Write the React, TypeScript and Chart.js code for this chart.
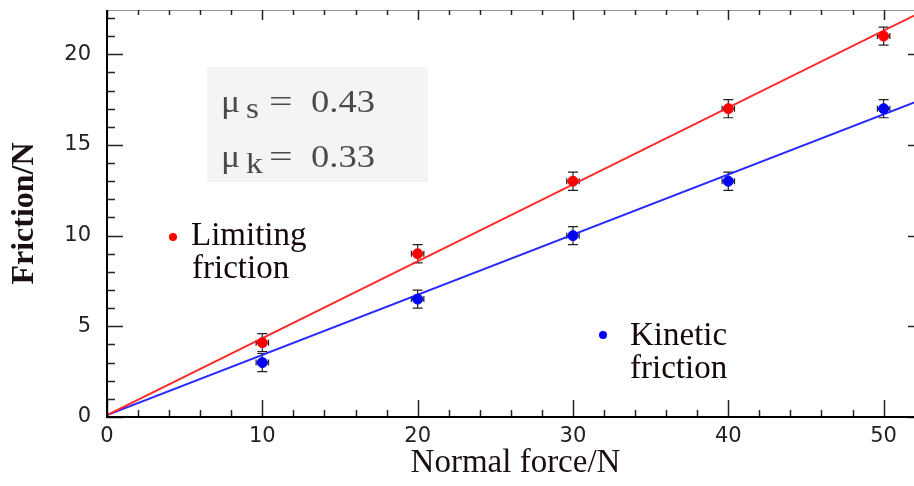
import React, { useEffect, useRef } from "react";
import { Chart, registerables } from "chart.js";

Chart.register(...registerables);

// ---- data ----
const normalForce = [10, 20, 30, 40, 50];
const limitingFriction = [4.1, 9.0, 13.0, 17.0, 21.0];
const kineticFriction = [3.0, 6.5, 10.0, 13.0, 17.0];
const frictionErr = [0.5, 0.5, 0.5, 0.5, 0.5];
const forceErr = [0.4, 0.4, 0.4, 0.4, 0.4];

const fitForce = [0, 52.6];
const limitingFit = [0.1, 22.4];
const kineticFit = [0.1, 17.55];

const xTickValues = [0, 10, 20, 30, 40, 50];
const yTickValues = [0, 5, 10, 15, 20];

const xMin = 0;
const xMax = 52.6;
const yMin = 0;
const yMax = 22.44;

const muLabels = [
  { sub: "s", value: "0.43" },
  { sub: "k", value: "0.33" },
];

const SERIF = "'Liberation Serif', 'Times New Roman', serif";
const SANS = "'DejaVu Sans', 'Liberation Sans', Arial, sans-serif";

const pts = (xs: number[], ys: number[]) => xs.map((x, i) => ({ x, y: ys[i] }));

const framePlugin = {
  id: "frame",
  beforeDatasetsDraw(chart: any) {
    const { ctx, scales } = chart;
    const xs = scales.x;
    const ys = scales.y;
    ctx.save();
    // annotation box
    ctx.fillStyle = "#f4f4f4";
    ctx.fillRect(207, 67, 221, 115);

    // error bars
    ctx.strokeStyle = "#222";
    ctx.lineWidth = 1.2;
    const drawErr = (ysArr: number[]) => {
      normalForce.forEach((f, i) => {
        const px = xs.getPixelForValue(f);
        const py = ys.getPixelForValue(ysArr[i]);
        const top = ys.getPixelForValue(ysArr[i] + frictionErr[i]);
        const bot = ys.getPixelForValue(ysArr[i] - frictionErr[i]);
        const l = xs.getPixelForValue(f - forceErr[i]);
        const r = xs.getPixelForValue(f + forceErr[i]);
        ctx.beginPath();
        ctx.moveTo(px, top);
        ctx.lineTo(px, bot);
        ctx.moveTo(px - 5, top);
        ctx.lineTo(px + 5, top);
        ctx.moveTo(px - 5, bot);
        ctx.lineTo(px + 5, bot);
        ctx.moveTo(l, py);
        ctx.lineTo(r, py);
        ctx.moveTo(l, py - 3);
        ctx.lineTo(l, py + 3);
        ctx.moveTo(r, py - 3);
        ctx.lineTo(r, py + 3);
        ctx.stroke();
      });
    };
    drawErr(limitingFriction);
    drawErr(kineticFriction);
    ctx.restore();
  },
  afterDraw(chart: any) {
    const { ctx, chartArea: a, scales } = chart;
    const xs = scales.x;
    const ys = scales.y;
    ctx.save();
    // frame
    ctx.strokeStyle = "#999";
    ctx.lineWidth = 1;
    ctx.beginPath();
    ctx.moveTo(a.left, a.top + 0.5);
    ctx.lineTo(a.right, a.top + 0.5);
    ctx.moveTo(a.right - 0.5, a.top);
    ctx.lineTo(a.right - 0.5, a.bottom);
    ctx.stroke();

    // ticks
    ctx.strokeStyle = "#222";
    ctx.lineWidth = 1.5;
    ctx.beginPath();
    for (let v = 0; v <= xMax; v += 2) {
      const px = Math.round(xs.getPixelForValue(v)) + 0.5;
      const major = v % 10 === 0;
      ctx.moveTo(px, a.bottom);
      ctx.lineTo(px, a.bottom - (major ? 17 : 7));
      ctx.moveTo(px, a.top);
      ctx.lineTo(px, a.top + (major ? 10 : 5));
    }
    for (let v = 0; v <= yMax; v += 1) {
      const py = Math.round(ys.getPixelForValue(v)) + 0.5;
      const major = v % 5 === 0;
      ctx.moveTo(a.left, py);
      ctx.lineTo(a.left + (major ? 16 : 8), py);
      ctx.moveTo(a.right, py);
      ctx.lineTo(a.right - (major ? 16 : 8), py);
    }
    ctx.stroke();

    // main axes
    ctx.strokeStyle = "#000";
    ctx.lineWidth = 2;
    ctx.beginPath();
    ctx.moveTo(a.left, a.top);
    ctx.lineTo(a.left, a.bottom);
    ctx.lineTo(a.right, a.bottom);
    ctx.stroke();

    // mu annotations (slightly wide serif)
    ctx.fillStyle = "#4a4a4a";
    ctx.textBaseline = "alphabetic";
    ctx.textAlign = "left";
    const baselines = [112, 167];
    muLabels.forEach((m, i) => {
      const b = baselines[i];
      const put = (t: string, x: number, y: number, size: number, sx: number) => {
        ctx.save();
        ctx.translate(x, y);
        ctx.scale(sx, 1);
        ctx.font = `${size}px ${SERIF}`;
        ctx.fillText(t, 0, 0);
        ctx.restore();
      };
      put("\u03bc", 221, b, 31, 1.15);
      put(m.sub, 246, b + 6, 29, 1.15);
      put("=", 269, b, 31, 1.35);
      put(m.value, 311, b, 31, 1.18);
    });

    // series labels
    ctx.fillStyle = "#140808";
    ctx.font = `33px ${SERIF}`;
    ctx.fillText("Limiting", 191, 245);
    ctx.fillText("friction", 192, 278);
    ctx.fillText("Kinetic", 630, 345);
    ctx.fillText("friction", 630, 378);
    ctx.fillStyle = "#ff0000";
    ctx.beginPath();
    ctx.arc(173, 237, 4, 0, Math.PI * 2);
    ctx.fill();
    ctx.fillStyle = "#0000ff";
    ctx.beginPath();
    ctx.arc(603, 335, 4, 0, Math.PI * 2);
    ctx.fill();
    ctx.restore();
  },
};

export default function App() {
  const ref = useRef<HTMLCanvasElement>(null);
  useEffect(() => {
    if (!ref.current) return;
    const chart = new Chart(ref.current, {
      type: "scatter",
      data: {
        datasets: [
          {
            label: "Limiting friction",
            data: pts(normalForce, limitingFriction),
            backgroundColor: "#ff0000",
            borderColor: "#ff0000",
            pointRadius: 5,
            order: 0,
          },
          {
            label: "Kinetic friction",
            data: pts(normalForce, kineticFriction),
            backgroundColor: "#0000ff",
            borderColor: "#0000ff",
            pointRadius: 5,
            order: 1,
          },
          {
            label: "Limiting fit",
            data: pts(fitForce, limitingFit),
            showLine: true,
            borderColor: "#ff2a2a",
            borderWidth: 2,
            pointRadius: 0,
            order: 2,
          },
          {
            label: "Kinetic fit",
            data: pts(fitForce, kineticFit),
            showLine: true,
            borderColor: "#2a2aff",
            borderWidth: 2,
            pointRadius: 0,
            order: 3,
          },
        ],
      },
      options: {
        animation: false,
        responsive: false,
        devicePixelRatio: 1,
        layout: { padding: { top: 10, right: 4, left: 0, bottom: 0 } },
        plugins: { legend: { display: false }, tooltip: { enabled: false } },
        scales: {
          x: {
            type: "linear",
            min: xMin,
            max: xMax,
            grid: { display: false, drawTicks: false },
            border: { display: false },
            afterBuildTicks: (s: any) => {
              s.ticks = xTickValues.map((v) => ({ value: v }));
            },
            afterFit: (s: any) => {
              s.height = 69;
              s.paddingLeft = 0;
              s.paddingRight = 0;
              s.paddingTop = 0;
              s.paddingBottom = 0;
            },
            ticks: {
              padding: 7,
              color: "#222",
              font: { family: SANS, size: 21 },
            },
            title: {
              display: true,
              text: "Normal force/N",
              color: "#1a1010",
              font: { family: SERIF, size: 33 },
              padding: { top: 0, bottom: 3 },
            },
          },
          y: {
            type: "linear",
            min: yMin,
            max: yMax,
            grid: { display: false, drawTicks: false },
            border: { display: false },
            afterBuildTicks: (s: any) => {
              s.ticks = yTickValues.map((v) => ({ value: v }));
            },
            afterFit: (s: any) => {
              s.width = 107;
              s.paddingLeft = 0;
              s.paddingRight = 0;
              s.paddingTop = 0;
              s.paddingBottom = 0;
            },
            ticks: {
              padding: 16,
              color: "#222",
              font: { family: SANS, size: 21 },
            },
            title: {
              display: true,
              text: "Friction/N",
              color: "#1a1010",
              font: { family: SERIF, size: 32, weight: "bold" },
              padding: { top: 6, bottom: 0 },
            },
          },
        },
      },
      plugins: [framePlugin],
    } as any);
    return () => chart.destroy();
  }, []);

  return (
    <div
      style={{
        position: "absolute",
        left: 0,
        top: 0,
        width: 914,
        height: 486,
        overflow: "hidden",
        background: "#fff",
      }}
    >
      <canvas ref={ref} width={930} height={486} style={{ display: "block" }} />
    </div>
  );
}
